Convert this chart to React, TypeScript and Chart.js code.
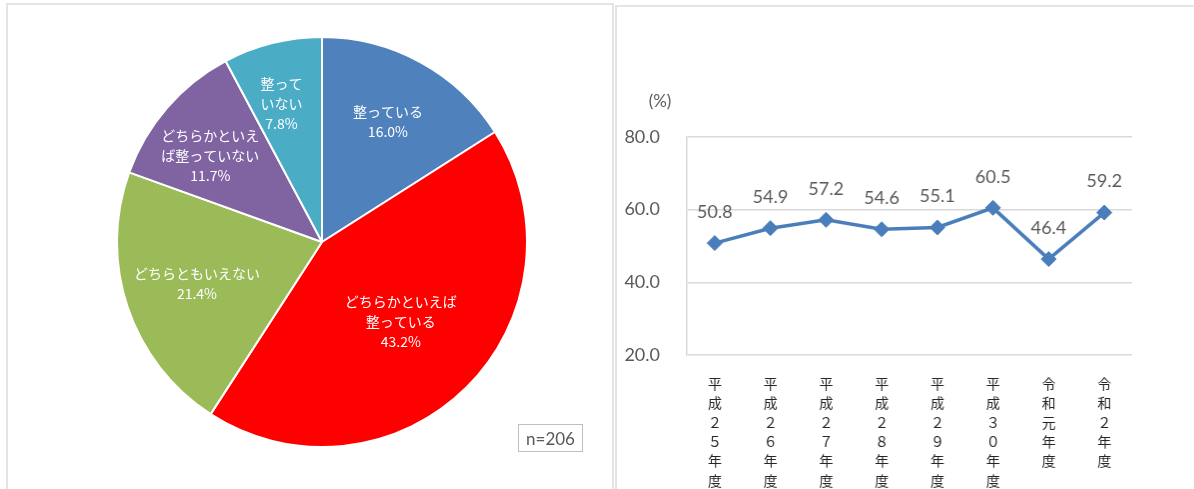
import React, { useEffect, useRef } from "react";
import { Chart, registerables } from "chart.js";

Chart.register(...registerables);

// ---- Pie data ----
const pieCategories = [
  "整っている",
  "どちらかといえば整っている",
  "どちらともいえない",
  "どちらかといえば整っていない",
  "整っていない",
];
const pieLabelLines = [
  ["整っている"],
  ["どちらかといえば", "整っている"],
  ["どちらともいえない"],
  ["どちらかといえ", "ば整っていない"],
  ["整って", "いない"],
];
const pieValues = [16.0, 43.2, 21.4, 11.7, 7.8];
const pieColors = ["#4f81bd", "#ff0000", "#9bbb59", "#8064a2", "#4bacc6"];
const sampleSize = "n=206";

// ---- Line data ----
const years = [
  ["平", "成", "２", "５", "年", "度"],
  ["平", "成", "２", "６", "年", "度"],
  ["平", "成", "２", "７", "年", "度"],
  ["平", "成", "２", "８", "年", "度"],
  ["平", "成", "２", "９", "年", "度"],
  ["平", "成", "３", "０", "年", "度"],
  ["令", "和", "元", "年", "度"],
  ["令", "和", "２", "年", "度"],
];
const rates = [50.8, 54.9, 57.2, 54.6, 55.1, 60.5, 46.4, 59.2];
const yTicks = [20, 40, 60, 80];
const unitLabel = "(%)";

const CJK = "'Noto Sans CJK JP', 'Noto Sans', sans-serif";
const NUM = "Lato, 'Noto Sans', sans-serif";

const pieLabelPlugin = {
  id: "pieLabels",
  afterDatasetsDraw(chart: any) {
    const meta = chart.getDatasetMeta(0);
    const ctx = chart.ctx;
    const total = pieValues.reduce((a, b) => a + b, 0);
    ctx.save();
    ctx.fillStyle = "#ffffff";
    ctx.textAlign = "center";
    ctx.textBaseline = "middle";
    ctx.font = `14px ${CJK}`;
    meta.data.forEach((arc: any, i: number) => {
      const p = pieValues[i] / total;
      // small slices: pull label slightly toward the start of the slice (best-fit like Excel)
      const span = arc.endAngle - arc.startAngle;
      const mid = arc.startAngle + span * (p < 0.15 ? 0.42 : 0.5);
      const r = arc.outerRadius * (0.74 - 0.45 * p);
      const cx = arc.x + Math.cos(mid) * r;
      const cy = arc.y + Math.sin(mid) * r;
      const lines = [...pieLabelLines[i], pieValues[i].toFixed(1) + "%"];
      const lh = 20;
      const y0 = cy - ((lines.length - 1) * lh) / 2;
      lines.forEach((t, k) => ctx.fillText(t, cx, y0 + k * lh));
    });
    ctx.restore();
  },
};

const lineExtrasPlugin = {
  id: "lineExtras",
  afterDatasetsDraw(chart: any) {
    const ctx = chart.ctx;
    const meta = chart.getDatasetMeta(0);
    ctx.save();
    ctx.fillStyle = "#595959";
    ctx.textAlign = "center";
    ctx.textBaseline = "middle";
    ctx.font = `18px ${NUM}`;
    meta.data.forEach((pt: any, i: number) => {
      ctx.fillText(rates[i].toFixed(1), pt.x, pt.y - 31);
    });
    const ca = chart.chartArea;
    ctx.font = `17px ${NUM}`;
    ctx.fillText(unitLabel, ca.left - 27, ca.top - 35);
    ctx.restore();
  },
};

export default function App() {
  const pieRef = useRef<HTMLCanvasElement>(null);
  const lineRef = useRef<HTMLCanvasElement>(null);

  useEffect(() => {
    document.body.style.margin = "0";
    const pie = new Chart(pieRef.current!, {
      type: "pie",
      data: {
        labels: pieCategories,
        datasets: [
          {
            data: pieValues,
            backgroundColor: pieColors,
            borderColor: "#ffffff",
            borderWidth: 2,
          },
        ],
      },
      options: {
        animation: false,
        responsive: false,
        radius: 205,
        plugins: { legend: { display: false }, tooltip: { enabled: false } },
      },
      plugins: [pieLabelPlugin],
    });

    const line = new Chart(lineRef.current!, {
      type: "line",
      data: {
        labels: years,
        datasets: [
          {
            data: rates,
            borderColor: "#4a7ebb",
            backgroundColor: "#4a7ebb",
            borderWidth: 3.5,
            pointStyle: "rectRot",
            pointRadius: 7.5,
            pointBorderWidth: 1,
            pointBorderColor: "#4a7ebb",
            tension: 0,
          },
        ],
      },
      options: {
        animation: false,
        responsive: false,
        layout: { padding: { left: 0, right: 62, top: 131, bottom: 0 } },
        plugins: { legend: { display: false }, tooltip: { enabled: false } },
        scales: {
          x: {
            offset: true,
            grid: { display: false },
            border: { display: false },
            ticks: {
              color: "#262626",
              font: { family: CJK, size: 14, lineHeight: 1.38 },
              padding: 11,
              maxRotation: 0,
              autoSkip: false,
            },
            afterFit(scale: any) {
              scale.height = 134;
            },
          },
          y: {
            min: 20,
            max: 80,
            afterBuildTicks(scale: any) {
              scale.ticks = yTicks.map((v) => ({ value: v }));
            },
            grid: { color: "#d9d9d9", lineWidth: 1.5, drawTicks: false },
            border: { display: true, color: "#d9d9d9", width: 1.5 },
            ticks: {
              color: "#595959",
              font: { family: NUM, size: 18 },
              padding: 27,
              callback: (v: any) => Number(v).toFixed(1),
            },
            afterFit(scale: any) {
              scale.width = 70;
            },
          },
        },
      },
      plugins: [lineExtrasPlugin],
    });
    return () => {
      pie.destroy();
      line.destroy();
    };
  }, []);

  return (
    <div style={{ position: "relative", width: 1194, height: 489, overflow: "hidden", background: "#fff" }}>
      <div
        style={{
          position: "absolute",
          left: 6,
          top: 3,
          width: 608,
          height: 520,
          border: "2px solid #e4e4e4",
          boxSizing: "border-box",
        }}
      />
      <div
        style={{
          position: "absolute",
          left: 615,
          top: 5,
          width: 620,
          height: 520,
          border: "2px solid #e4e4e4",
          boxSizing: "border-box",
        }}
      />
      <canvas
        ref={pieRef}
        width={412}
        height={412}
        style={{ position: "absolute", left: 116, top: 36, width: 412, height: 412 }}
      />
      <div
        style={{
          position: "absolute",
          left: 518,
          top: 424,
          width: 65,
          height: 28,
          border: "1px solid #bfbfbf",
          boxSizing: "border-box",
          color: "#595959",
          font: `17px ${NUM}`,
          display: "flex",
          alignItems: "center",
          justifyContent: "center",
        }}
      >
        {sampleSize}
      </div>
      <canvas
        ref={lineRef}
        width={578}
        height={483}
        style={{ position: "absolute", left: 617, top: 6, width: 577, height: 483 }}
      />
    </div>
  );
}
